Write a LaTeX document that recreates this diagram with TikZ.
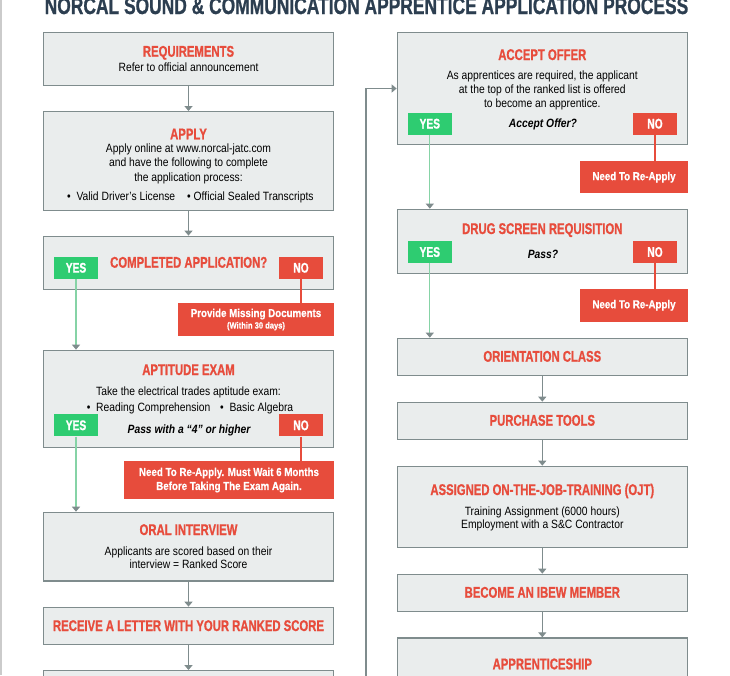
\documentclass[tikz,border=0pt]{standalone}
\usepackage{fontspec}
\setmainfont{Liberation Sans}
\newfontfamily\headfont[FakeStretch=0.73, FakeBold=0.9]{Liberation Sans}
\newfontfamily\bodyfont[FakeStretch=0.86]{Liberation Sans}
\newfontfamily\stopfont[FakeStretch=0.84, FakeBold=0.5]{Liberation Sans}
\usetikzlibrary{arrows.meta}
\definecolor{boxfill}{HTML}{EAEDED}
\definecolor{boxline}{HTML}{7F8C8D}
\definecolor{flowred}{HTML}{E74C3C}
\definecolor{flowgreen}{HTML}{2ECC71}
\definecolor{palegreen}{HTML}{86D3A6}
\definecolor{titlenavy}{HTML}{2C3E50}
\definecolor{edgegray}{HTML}{CBCBCB}

\begin{document}
\begin{tikzpicture}[
  x=1pt,
  y=-1pt,
  stepbox/.style={draw=boxline, fill=boxfill, line width=1.3pt, inner sep=0pt, minimum width=290pt},
  titletxt/.style={text=titlenavy, font=\headfont\bfseries\fontsize{23.85}{26}\selectfont, anchor=base, inner sep=0pt},
  headtxt/.style={text=flowred, font=\headfont\bfseries\fontsize{15.5}{18}\selectfont, anchor=base, inner sep=0pt},
  bodytxt/.style={text=black, font=\bodyfont\fontsize{12}{14}\selectfont, anchor=base, inner sep=0pt},
  asktxt/.style={bodytxt, font=\bodyfont\bfseries\itshape\fontsize{12}{14}\selectfont},
  yesbtn/.style={fill=flowgreen, text=white, font=\headfont\bfseries\fontsize{14}{14}\selectfont, minimum width=44pt, minimum height=22pt, inner sep=0pt},
  nobtn/.style={yesbtn, fill=flowred},
  stopbox/.style={fill=flowred, text=white, font=\stopfont\bfseries\fontsize{11.6}{14}\selectfont, align=center, inner sep=0pt},
  flow/.style={draw=boxline, line width=1.3pt, -{Triangle[width=8pt,length=5pt]}},
  yesline/.style={draw=palegreen, line width=1.3pt, -{Triangle[width=8pt,length=5pt,color=boxline]}},
  noline/.style={draw=flowred, line width=1.2pt}
]
  \useasboundingbox (0,0) rectangle (730,675);
  \clip (0,0) rectangle (730,675);
  \draw[edgegray, line width=1.5pt] (0.75,0) -- (0.75,675);

  \node[titletxt] (title) at (366.5,14) {NORCAL SOUND \& COMMUNICATION APPRENTICE APPLICATION PROCESS};

  % left column
  \node[stepbox, minimum height=53pt] (req) at (188.5,58.8) {};
  \node[headtxt] (reqT) at (188.5,56.7) {REQUIREMENTS};
  \node[bodytxt] (reqB) at (188.5,71.7) {Refer to official announcement};

  \node[stepbox, minimum height=98.6pt] (apply) at (188.5,161) {};
  \node[headtxt] (applyT) at (188.5,139.3) {APPLY};
  \node[bodytxt] (applyB1) at (188.5,152.3) {Apply online at www.norcal-jatc.com};
  \node[bodytxt] (applyB2) at (188.5,166.7) {and have the following to complete};
  \node[bodytxt] (applyB3) at (188.5,181) {the application process:};
  \node[bodytxt, anchor=base west] (applyL1) at (67,200) {•\ \ Valid Driver’s License};
  \node[bodytxt, anchor=base west] (applyL2) at (187,200) {• Official Sealed Transcripts};

  \node[stepbox, minimum height=53pt] (done) at (188.5,262.8) {};
  \node[headtxt] (doneT) at (188.7,267.7) {COMPLETED APPLICATION?};
  \node[yesbtn] (doneY) at (76,267.8) {YES};
  \node[nobtn] (doneN) at (301,267.8) {NO};
  \node[stopbox, minimum width=156pt, minimum height=33pt] (missing) at (256,319.5)
    {Provide Missing Documents\\[-2.5pt]{\fontsize{9}{10}\selectfont (Within 30 days)}};

  \node[stepbox, minimum height=97pt] (exam) at (188.5,398.8) {};
  \node[headtxt] (examT) at (188.5,375) {APTITUDE EXAM};
  \node[bodytxt] (examB) at (188.5,395) {Take the electrical trades aptitude exam:};
  \node[bodytxt, anchor=base west] (examL1) at (86.7,411.7) {•\ \ Reading Comprehension};
  \node[bodytxt, anchor=base west] (examL2) at (220,411.7) {•\ \ Basic Algebra};
  \node[asktxt] (examQ) at (189,433.3) {Pass with a “4” or higher};
  \node[yesbtn] (examY) at (76,425.3) {YES};
  \node[nobtn] (examN) at (301,425.3) {NO};
  \node[stopbox, minimum width=210pt, minimum height=38pt] (wait) at (229,480)
    {Need To Re-Apply. Must Wait 6 Months\\Before Taking The Exam Again.};

  \node[stepbox, minimum height=68.7pt] (oral) at (188.5,546.7) {};
  \node[headtxt] (oralT) at (188.5,535) {ORAL INTERVIEW};
  \node[bodytxt] (oralB1) at (188.5,555) {Applicants are scored based on their};
  \node[bodytxt] (oralB2) at (188.5,568.3) {interview = Ranked Score};

  \node[stepbox, minimum height=37pt] (letter) at (188.5,625.8) {};
  \node[headtxt] (letterT) at (188.5,631) {RECEIVE A LETTER WITH YOUR RANKED SCORE};
  \node[stepbox, minimum height=40pt] (next) at (188.5,690.7) {};

  % right column
  \node[stepbox, minimum height=111.6pt] (offer) at (542.3,88.5) {};
  \node[headtxt] (offerT) at (542.3,60) {ACCEPT OFFER};
  \node[bodytxt] (offerB1) at (542.3,79.5) {As apprentices are required, the applicant};
  \node[bodytxt] (offerB2) at (542.3,93.5) {at the top of the ranked list is offered};
  \node[bodytxt] (offerB3) at (542.3,107.5) {to become an apprentice.};
  \node[asktxt] (offerQ) at (543,127.3) {Accept Offer?};
  \node[yesbtn] (offerY) at (429.8,123.7) {YES};
  \node[nobtn] (offerN) at (655,123.7) {NO};
  \node[stopbox, minimum width=108pt, minimum height=32pt] (reapplyA) at (634,177.2) {Need To Re-Apply};

  \node[stepbox, minimum height=64pt] (drug) at (542.3,241.3) {};
  \node[headtxt] (drugT) at (542.3,234) {DRUG SCREEN REQUISITION};
  \node[asktxt] (drugQ) at (543,258.7) {Pass?};
  \node[yesbtn] (drugY) at (429.8,252) {YES};
  \node[nobtn] (drugN) at (655,252) {NO};
  \node[stopbox, minimum width=108pt, minimum height=32.7pt] (reapplyB) at (634,305.3) {Need To Re-Apply};

  \node[stepbox, minimum height=37.4pt] (orient) at (542.3,357) {};
  \node[headtxt] (orientT) at (542.3,361.7) {ORIENTATION CLASS};

  \node[stepbox, minimum height=37pt] (tools) at (542.3,420.8) {};
  \node[headtxt] (toolsT) at (542.3,425.7) {PURCHASE TOOLS};

  \node[stepbox, minimum height=81pt] (ojt) at (542.3,506.8) {};
  \node[headtxt] (ojtT) at (542.3,495) {ASSIGNED ON-THE-JOB-TRAINING (OJT)};
  \node[bodytxt] (ojtB1) at (542.3,515) {Training Assignment (6000 hours)};
  \node[bodytxt] (ojtB2) at (542.3,528.3) {Employment with a S\&C Contractor};

  \node[stepbox, minimum height=37pt] (ibew) at (542.3,592.8) {};
  \node[headtxt] (ibewT) at (542.3,597.7) {BECOME AN IBEW MEMBER};

  \node[stepbox, minimum height=60pt] (appr) at (542.3,668) {};
  \node[headtxt] (apprT) at (542.3,669.3) {APPRENTICESHIP};

  % connectors
  \draw[flow] (req.south) -- (apply.north);
  \draw[flow] (apply.south) -- (done.north);
  \draw[yesline] (doneY.south) -- (doneY.south |- exam.north);
  \draw[noline] (doneN.south) -- (doneN.south |- missing.north);
  \draw[yesline] (examY.south) -- (examY.south |- oral.north);
  \draw[noline] (examN.south) -- (examN.south |- wait.north);
  \draw[flow] (oral.south) -- (letter.north);
  \draw[flow] (letter.south) -- (next.north);

  \coordinate (loop) at (366,700);
  \draw[flow] (loop) |- (offer.west);
  \draw[yesline] (offerY.south) -- (offerY.south |- drug.north);
  \draw[noline] (offerN.south) -- (offerN.south |- reapplyA.north);
  \draw[yesline] (drugY.south) -- (drugY.south |- orient.north);
  \draw[noline] (drugN.south) -- (drugN.south |- reapplyB.north);
  \draw[flow] (orient.south) -- (tools.north);
  \draw[flow] (tools.south) -- (ojt.north);
  \draw[flow] (ojt.south) -- (ibew.north);
  \draw[flow] (ibew.south) -- (appr.north);
\end{tikzpicture}
\end{document}
